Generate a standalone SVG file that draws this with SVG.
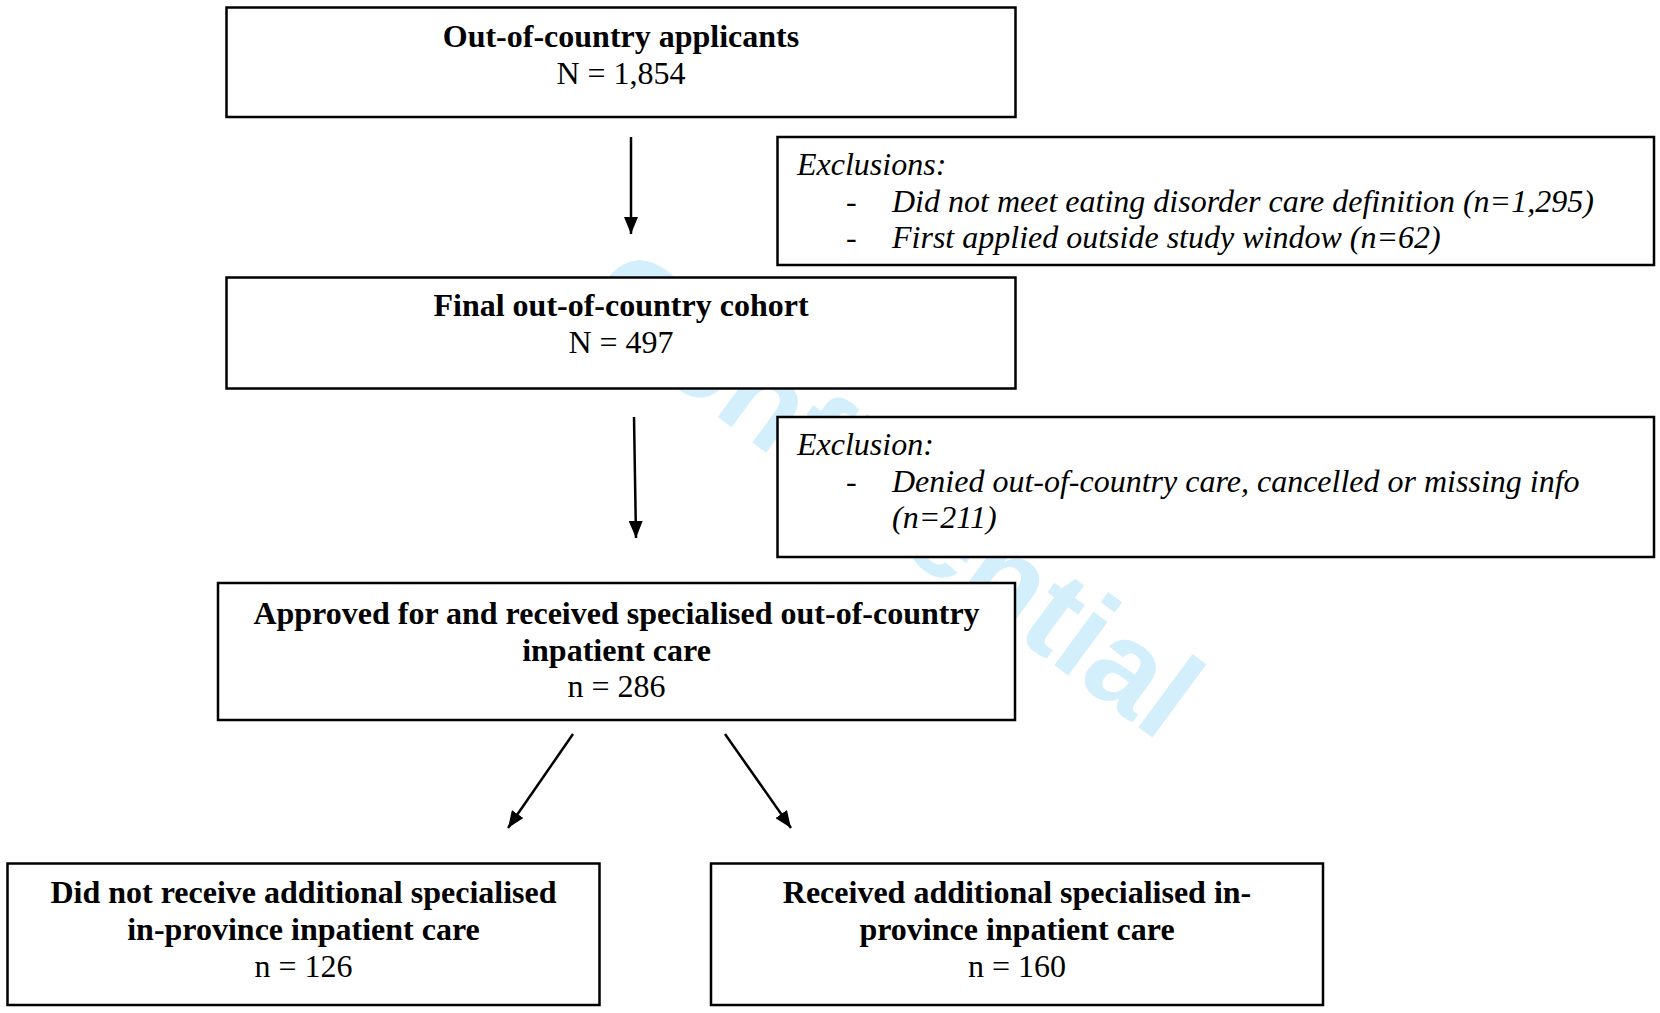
<svg xmlns="http://www.w3.org/2000/svg" width="1660" height="1013" viewBox="0 0 1660 1013">
<defs>
<style>
.box{fill:#fff;stroke:#000;stroke-width:2.5}
.t{font-family:"Liberation Serif","Times New Roman",serif;font-size:32px;fill:#000}
.b{font-weight:bold}
.c{text-anchor:middle}
.i{font-style:italic}
.wm{font-family:"Liberation Sans",Arial,sans-serif;font-weight:bold;font-size:125.5px;fill:#d4effc}
.conn{stroke:#000;stroke-width:2.5;fill:none;marker-end:url(#ah)}
</style>
<marker id="ah" markerUnits="userSpaceOnUse" markerWidth="18" markerHeight="14" refX="17" refY="7" orient="auto">
<path d="M0,0 L17,7 L0,14 z" fill="#000"/>
</marker>
</defs>
<rect width="1660" height="1013" fill="#fff"/>
<text class="wm" transform="translate(576,312.5) rotate(36.4)">Confidential</text>

<g id="connectors">
<line class="conn" x1="631" y1="137" x2="631" y2="234"/>
<line class="conn" x1="634" y1="417" x2="636" y2="538"/>
<line class="conn" x1="573" y1="734" x2="508" y2="828"/>
<line class="conn" x1="725" y1="734" x2="791" y2="828"/>
</g>

<g id="n1">
<rect class="box" x="226.5" y="7.5" width="789" height="109.5"/>
<text class="t b c" x="621" y="47">Out-of-country applicants</text>
<text class="t c" x="621" y="83.5">N = 1,854</text>
</g>

<g id="ex1">
<rect class="box" x="777.5" y="137" width="876.5" height="128"/>
<text class="t i" x="797" y="175">Exclusions:</text>
<text class="t" x="846" y="211.5">-</text>
<text class="t i" x="892" y="211.5">Did not meet eating disorder care definition (n=1,295)</text>
<text class="t" x="846" y="248">-</text>
<text class="t i" x="892" y="248">First applied outside study window (n=62)</text>
</g>

<g id="n2">
<rect class="box" x="226.5" y="277.5" width="789" height="111"/>
<text class="t b c" x="621" y="316">Final out-of-country cohort</text>
<text class="t c" x="621" y="352.5">N = 497</text>
</g>

<g id="ex2">
<rect class="box" x="777.5" y="417" width="876.5" height="140"/>
<text class="t i" x="797" y="455">Exclusion:</text>
<text class="t" x="846" y="491.5">-</text>
<text class="t i" x="892" y="491.5">Denied out-of-country care, cancelled or missing info</text>
<text class="t i" x="892" y="528">(n=211)</text>
</g>

<g id="n3">
<rect class="box" x="218" y="583" width="797" height="137"/>
<text class="t b c" x="616.5" y="624">Approved for and received specialised out-of-country</text>
<text class="t b c" x="616.5" y="660.5">inpatient care</text>
<text class="t c" x="616.5" y="697">n = 286</text>
</g>

<g id="n4">
<rect class="box" x="7.5" y="863.5" width="592" height="141.5"/>
<text class="t b c" x="303.5" y="903">Did not receive additional specialised</text>
<text class="t b c" x="303.5" y="940">in-province inpatient care</text>
<text class="t c" x="303.5" y="977">n = 126</text>
</g>

<g id="n5">
<rect class="box" x="711" y="863.5" width="612" height="141.5"/>
<text class="t b c" x="1017" y="903">Received additional specialised in-</text>
<text class="t b c" x="1017" y="940">province inpatient care</text>
<text class="t c" x="1017" y="977">n = 160</text>
</g>
</svg>
